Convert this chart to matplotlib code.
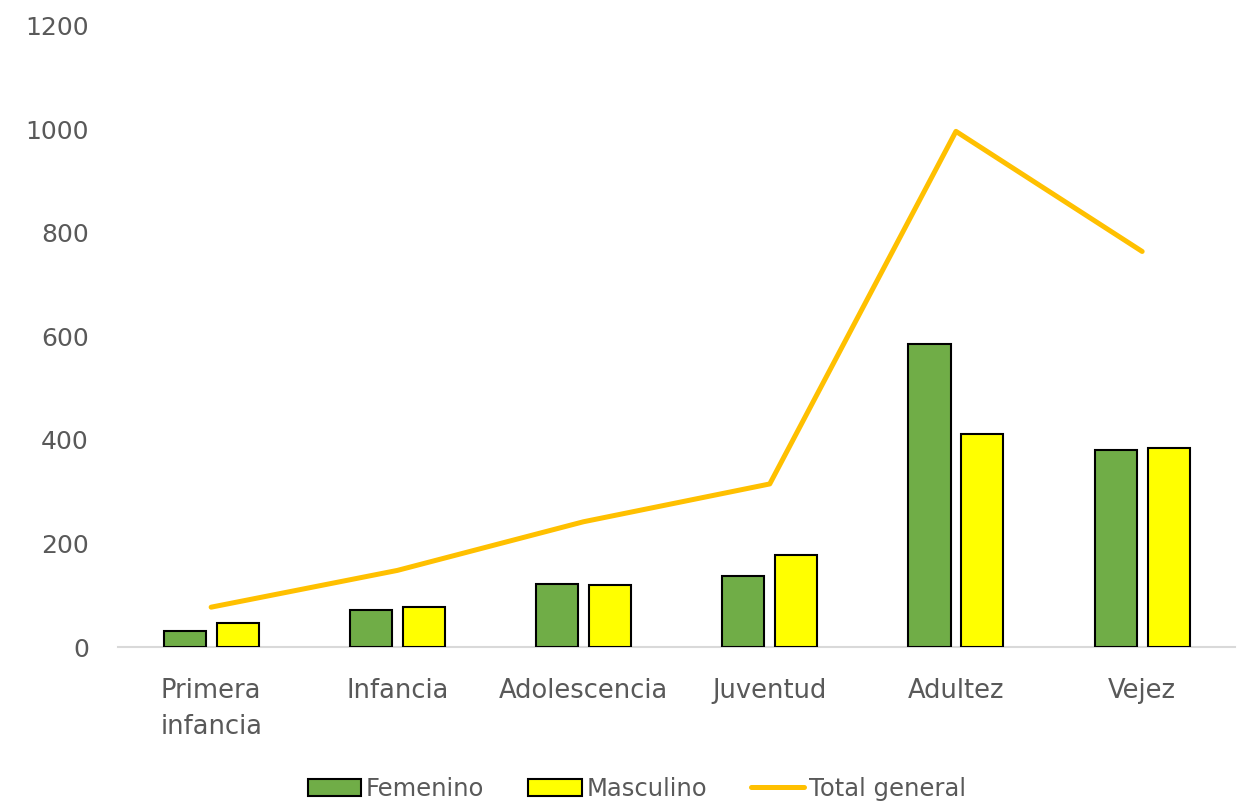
import numpy as np
import matplotlib.pyplot as plt
from matplotlib.patches import Patch
from matplotlib.lines import Line2D

plt.rcParams['font.family'] = ['DejaVu Sans']

categorias = ["Primera\ninfancia", "Infancia", "Adolescencia", "Juventud", "Adultez", "Vejez"]
femenino = [31, 71, 122, 137, 585, 380]
masculino = [46, 77, 120, 178, 411, 384]
total = [77, 148, 242, 315, 996, 764]
y_ticks = [0, 200, 400, 600, 800, 1000, 1200]

VERDE = "#70AD47"
AMARILLO = "#FFFF00"
NARANJA = "#FFC000"
TEXTO = "#595959"

fig = plt.figure(figsize=(12.49, 8.09), dpi=100)
ax = fig.add_axes([0.0945, 0.2002, 0.8945, 0.768])

x = np.arange(len(categorias))
w = 0.226
off = 0.142
ax.bar(x - off, femenino, w, color=VERDE, edgecolor="black", linewidth=1.5, zorder=3)
ax.bar(x + off, masculino, w, color=AMARILLO, edgecolor="black", linewidth=1.5, zorder=3)
ax.plot(x, total, color=NARANJA, lw=3.6, solid_capstyle="round", solid_joinstyle="round", zorder=4)

ax.set_xlim(-0.5, len(categorias) - 0.5)
ax.set_ylim(0, 1200)
ax.set_yticks(y_ticks)
ax.set_yticklabels([str(v) for v in y_ticks], fontsize=18, color=TEXTO)
ax.set_xticks(x)
ax.set_xticklabels(categorias, fontsize=18.5, color=TEXTO, linespacing=1.5)
ax.tick_params(axis="both", length=0)
ax.tick_params(axis="x", pad=22)
ax.tick_params(axis="y", pad=21)
for lab in ax.get_xticklabels():
    lab.set_verticalalignment("top")
for s in ["top", "right", "left"]:
    ax.spines[s].set_visible(False)
ax.spines["bottom"].set_color("#D9D9D9")
ax.spines["bottom"].set_linewidth(1.5)

handles = [
    Patch(facecolor=VERDE, edgecolor="black", linewidth=1.5, label="Femenino"),
    Patch(facecolor=AMARILLO, edgecolor="black", linewidth=1.5, label="Masculino"),
    Line2D([0], [0], color=NARANJA, lw=3.6, solid_capstyle="round", label="Total general"),
]
leg = fig.legend(handles=handles, loc="center", bbox_to_anchor=(0.51, 0.025), ncol=3,
                 frameon=False, fontsize=17.5, handlelength=2.2, handletextpad=0.2,
                 columnspacing=1.8)
for t in leg.get_texts():
    t.set_color(TEXTO)

fig.savefig("out.png", dpi=100)
